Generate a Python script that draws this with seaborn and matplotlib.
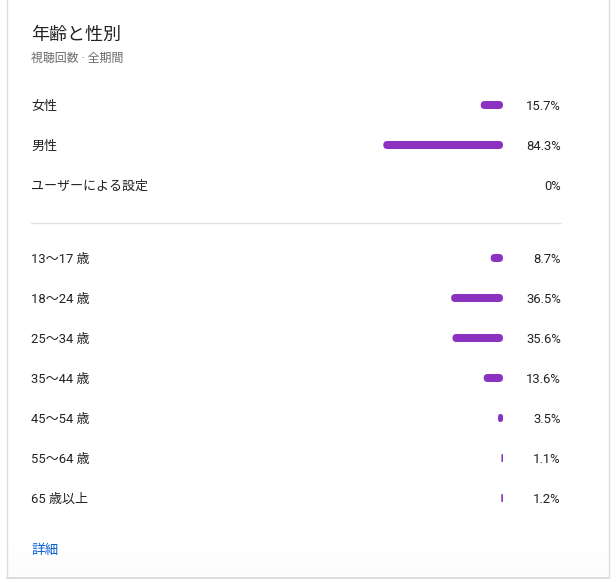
import numpy as np
import seaborn as sns
import matplotlib.pyplot as plt
from matplotlib.patches import FancyBboxPatch

# Data
title = '年齢と性別'
subtitle = '視聴回数 · 全期間'
gender_labels = ['女性', '男性', 'ユーザーによる設定']
gender_values = [15.7, 84.3, 0]
age_labels = ['13〜17 歳', '18〜24 歳', '25〜34 歳', '35〜44 歳', '45〜54 歳', '55〜64 歳', '65 歳以上']
age_values = [8.7, 36.5, 35.6, 13.6, 3.5, 1.1, 1.2]
link_text = '詳細'

# Layout (pixels)
W, H = 616, 582
left_x = 31
bar_right = 503
bar_span = 142  # pixels for 100 %
pct_x = 561
row_step = 40
gender_top = 105
age_top = 258
bar_px = 8
text_dy = 1.5
purple = '#8b32c0'
text_color = '#222222'
font_cjk = ['Noto Sans CJK JP', 'DejaVu Sans']
font_num = ['Roboto', 'Noto Sans CJK JP', 'DejaVu Sans']

sns.set_theme(style='white')
plt.rcParams['font.family'] = font_cjk

fig = plt.figure(figsize=(W / 100, H / 100), dpi=100)
bg = fig.add_axes([0, 0, 1, 1])
bg.set_xlim(0, W)
bg.set_ylim(H, 0)
bg.axis('off')

# Card
bg.plot([6.5, 6.5], [0, 577], color='#dcdcdc', lw=1)
bg.plot([608.5, 608.5], [0, 577], color='#dcdcdc', lw=1)
bg.plot([6.5, 608.5], [577.5, 577.5], color='#d6d6d6', lw=1.2)
grad = np.linspace(0, 1, 50).reshape(-1, 1)
bg.imshow(grad, extent=[7, 608, 577, 545], cmap='Greys', vmin=0, vmax=25,
          aspect='auto', alpha=0.6, zorder=0)
bg.set_xlim(0, W)
bg.set_ylim(H, 0)

bg.text(left_x, 33 + text_dy, title, fontsize=13, color=text_color, va='center', ha='left')
bg.text(left_x, 57 + text_dy, subtitle, fontsize=8.6, color='#6a6a6a', va='center',
        ha='left', family=font_num)
bg.plot([left_x, pct_x], [222.5, 222.5], color='#e3e3e3', lw=1)
bg.text(left_x, 548 + text_dy, link_text, fontsize=9.8, color='#065fd4', va='center', ha='left')


def draw_section(labels, values, top):
    n = len(labels)
    y0 = top - row_step / 2
    ax = fig.add_axes([(bar_right - bar_span) / W, 1 - (y0 + n * row_step) / H,
                       bar_span / W, n * row_step / H])
    bar_h = bar_px / row_step
    sns.barplot(x=values, y=labels, orient='h', color=purple, width=bar_h,
                ax=ax, saturation=1)
    ax.set_xlim(100, 0)
    ax.set_ylim(n - 0.5, -0.5)
    ax.axis('off')

    px_x = bar_span / 100
    aspect = px_x / row_step
    for p in list(ax.patches):
        x, y, w, h = p.get_x(), p.get_y(), p.get_width(), p.get_height()
        p.remove()
        if w <= 0:
            continue
        hx = h / aspect
        r = min(w, hx) / 2
        ax.add_patch(FancyBboxPatch((x, y), w, h,
                                    boxstyle=f'round,pad=0,rounding_size={r}',
                                    mutation_aspect=aspect, fc=purple, ec='none'))

    for i, (lab, v) in enumerate(zip(labels, values)):
        yy = top + i * row_step + text_dy
        bg.text(left_x, yy, lab, fontsize=9.4, color=text_color, va='center',
                ha='left', family=font_num)
        bg.text(pct_x, yy, f'{v:g}%', fontsize=9.4, color=text_color, va='center',
                ha='right', family=font_num)


draw_section(gender_labels, gender_values, gender_top)
draw_section(age_labels, age_values, age_top)

fig.savefig('out.png', dpi=100)
